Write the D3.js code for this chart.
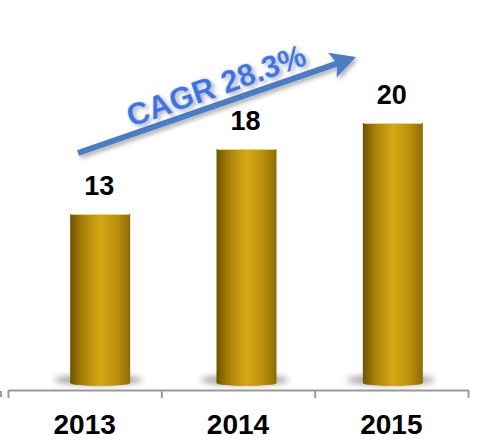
<!DOCTYPE html>
<html>
<head>
<meta charset="utf-8">
<script src="https://cdn.jsdelivr.net/npm/d3@7"></script>
<style>
  html, body { margin: 0; padding: 0; background: #fff; }
  svg { display: block; }
</style>
</head>
<body>
<script>
// chart data
const years = ["2013", "2014", "2015"];
const values = [13, 18, 20];
const cagrLabel = "CAGR 28.3%";

const W = 482, H = 441;
const axisY = 390;
const baseY = 383;

const svg = d3.select("body").append("svg")
  .attr("width", W)
  .attr("height", H);

const defs = svg.append("defs");

// gold cylinder gradient
const grad = defs.append("linearGradient")
  .attr("id", "gold")
  .attr("x1", "0%").attr("x2", "100%")
  .attr("y1", "0%").attr("y2", "0%");
grad.append("stop").attr("offset", "0%").attr("stop-color", "#6e5200");
grad.append("stop").attr("offset", "18%").attr("stop-color", "#a37c06");
grad.append("stop").attr("offset", "50%").attr("stop-color", "#d6a816");
grad.append("stop").attr("offset", "80%").attr("stop-color", "#b88d0b");
grad.append("stop").attr("offset", "100%").attr("stop-color", "#8f6c02");

const blur = defs.append("filter").attr("id", "blur")
  .attr("x", "-30%").attr("y", "-200%").attr("width", "160%").attr("height", "500%");
blur.append("feGaussianBlur").attr("stdDeviation", 3);

const shadow = defs.append("filter").attr("id", "shadow")
  .attr("x", "-20%").attr("y", "-50%").attr("width", "140%").attr("height", "200%");
shadow.append("feDropShadow")
  .attr("dx", 2).attr("dy", 3).attr("stdDeviation", 2)
  .attr("flood-color", "#000").attr("flood-opacity", 0.3);

// scales
const xAxisScale = d3.scaleBand().domain(years).range([8, 468]);
const xBar = d3.scaleBand().domain(years).range([27, 466]).paddingInner(0.59).paddingOuter(0.295);
const y = d3.scaleLinear().domain([0, 20]).range([baseY, 123]);
const tickScale = d3.scaleLinear().domain([0, years.length]).range([8, 468]);

// axis line with ticks at category edges
const axis = svg.append("g")
  .attr("transform", `translate(0,${axisY})`)
  .call(d3.axisBottom(tickScale)
    .tickValues(d3.range(years.length + 1))
    .tickSizeInner(8).tickSizeOuter(0)
    .tickFormat(""));
axis.select(".domain").attr("stroke", "#9a9a9a").attr("stroke-width", 2);
axis.selectAll(".tick line").attr("stroke", "#9a9a9a").attr("stroke-width", 2);

// small stray tick at left edge
svg.append("line")
  .attr("x1", 1).attr("x2", 1)
  .attr("y1", axisY + 1).attr("y2", axisY + 7)
  .attr("stroke", "#9a9a9a").attr("stroke-width", 2);

// year labels
svg.selectAll(".year")
  .data(years)
  .enter().append("text")
  .attr("class", "year")
  .attr("x", d => xAxisScale(d) + xAxisScale.bandwidth() / 2)
  .attr("y", 434)
  .attr("text-anchor", "middle")
  .attr("font-family", "Liberation Sans, Arial, sans-serif")
  .attr("font-weight", "bold")
  .attr("font-size", 28)
  .attr("fill", "#000")
  .text(d => d);

const bw = xBar.bandwidth();

// base shadows
svg.selectAll(".base")
  .data(years)
  .enter().append("ellipse")
  .attr("cx", d => xBar(d) + bw / 2 - 2)
  .attr("cy", baseY - 3)
  .attr("rx", bw / 2 + 14)
  .attr("ry", 5)
  .attr("fill", "#777")
  .attr("opacity", 0.7)
  .attr("filter", "url(#blur)");

const bars = svg.selectAll(".bar")
  .data(years.map((d, i) => ({ year: d, value: values[i] })))
  .enter().append("g").attr("class", "bar");

// bottom rounding of the cylinder
bars.append("ellipse")
  .attr("cx", d => xBar(d.year) + bw / 2)
  .attr("cy", baseY)
  .attr("rx", bw / 2)
  .attr("ry", 3)
  .attr("fill", "url(#gold)");

bars.append("rect")
  .attr("x", d => xBar(d.year))
  .attr("y", d => y(d.value))
  .attr("width", bw)
  .attr("height", d => baseY - y(d.value))
  .attr("fill", "url(#gold)");

// light top edge
bars.append("line")
  .attr("x1", d => xBar(d.year) + 1)
  .attr("x2", d => xBar(d.year) + bw - 1)
  .attr("y1", d => y(d.value) + 0.5)
  .attr("y2", d => y(d.value) + 0.5)
  .attr("stroke", "#e8d48a")
  .attr("stroke-width", 1);

// value labels
bars.append("text")
  .attr("x", d => xBar(d.year) + bw / 2 - 1)
  .attr("y", d => y(d.value) - 19)
  .attr("text-anchor", "middle")
  .attr("font-family", "Liberation Sans, Arial, sans-serif")
  .attr("font-weight", "bold")
  .attr("font-size", 27)
  .attr("fill", "#000")
  .text(d => d.value);

// CAGR arrow
const x0 = 78, y0 = 153, x1 = 356, y1 = 57;
const ang = Math.atan2(y1 - y0, x1 - x0);
const arrow = svg.append("g").attr("filter", "url(#shadow)");
const headLen = 20, headW = 13;
const bx = x1 - headLen * Math.cos(ang), by = y1 - headLen * Math.sin(ang);
arrow.append("line")
  .attr("x1", x0).attr("y1", y0)
  .attr("x2", bx + 2 * Math.cos(ang)).attr("y2", by + 2 * Math.sin(ang))
  .attr("stroke", "#4a7ec6")
  .attr("stroke-width", 6);
arrow.append("path")
  .attr("d", `M${x1},${y1}
    L${bx - headW * Math.sin(ang) - 5 * Math.cos(ang)},${by + headW * Math.cos(ang) - 5 * Math.sin(ang)}
    L${bx},${by}
    L${bx + headW * Math.sin(ang) - 5 * Math.cos(ang)},${by - headW * Math.cos(ang) - 5 * Math.sin(ang)}Z`)
  .attr("fill", "#4a7ec6");

svg.append("text")
  .attr("transform", `translate(220,96) rotate(-19.5)`)
  .attr("text-anchor", "middle")
  .attr("font-family", "Liberation Sans, Arial, sans-serif")
  .attr("font-weight", "bold")
  .attr("font-size", 31)
  .attr("fill", "#3a72e6")
  .attr("filter", "url(#shadow)")
  .text(cagrLabel);
</script>
</body>
</html>
